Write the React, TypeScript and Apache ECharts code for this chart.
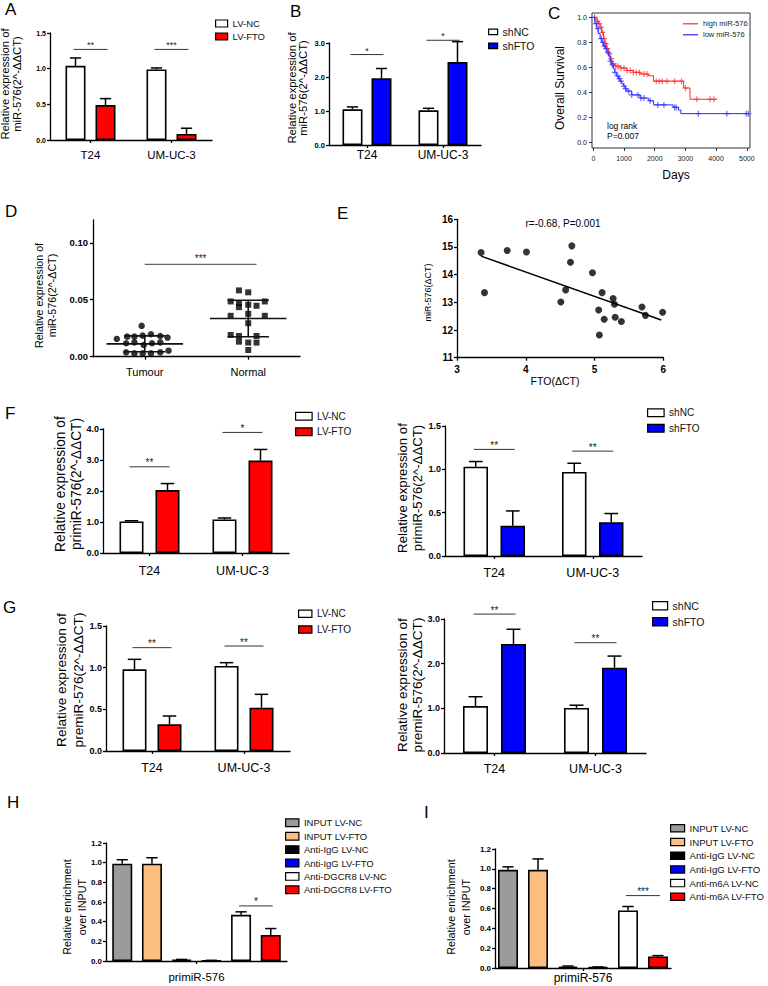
import React, { useEffect, useRef } from 'react';
import * as echarts from 'echarts';

const FONT = '"Liberation Sans", Arial, Helvetica, sans-serif';
const RED = '#ff0000';
const BLUE = '#0000ff';

// ===== Panel A : miR-576, LV-NC vs LV-FTO =====
const A_CATS = ['T24', 'UM-UC-3'];
const A_LVNC = [1.04, 0.99];
const A_LVNC_ERR = [0.11, 0.02];
const A_LVFTO = [0.49, 0.085];
const A_LVFTO_ERR = [0.09, 0.08];
const A_YTICKS = [0, 0.5, 1.0, 1.5];
const A_SIG_Y = [1.27, 1.27];
const A_SIG_TEXT = ['**', '***'];

// ===== Panel B : miR-576, shNC vs shFTO =====
const B_CATS = ['T24', 'UM-UC-3'];
const B_SHNC = [1.05, 1.02];
const B_SHNC_ERR = [0.07, 0.06];
const B_SHFTO = [1.96, 2.44];
const B_SHFTO_ERR = [0.29, 0.6];
const B_YTICKS = [0, 1.0, 2.0, 3.0];
const B_SIG_Y = [2.66, 3.08];
const B_SIG_TEXT = ['*', '*'];

// ===== Panel C : Kaplan-Meier =====
const C_HIGH_DAYS = [0, 60, 120, 170, 220, 270, 330, 380, 430, 490, 540, 600, 700, 870, 1090, 1300, 1520, 1790, 1960, 2940, 3150, 4030];
const C_HIGH_SURV = [1.0, 0.99, 0.97, 0.95, 0.92, 0.88, 0.83, 0.79, 0.75, 0.71, 0.67, 0.63, 0.61, 0.595, 0.575, 0.56, 0.547, 0.533, 0.49, 0.435, 0.345, 0.345];
const C_HIGH_CENSORED = [130, 190, 250, 300, 350, 400, 450, 520, 580, 650, 730, 800, 900, 1000, 1100, 1200, 1300, 1400, 1500, 1650, 1750, 2050, 2150, 2250, 2400, 2650, 2870, 3000, 3370, 3800, 3930];
const C_LOW_DAYS = [0, 50, 110, 160, 220, 280, 330, 400, 440, 500, 550, 600, 650, 700, 760, 820, 870, 930, 980, 1040, 1090, 1250, 1520, 1790, 1960, 2600, 2770, 2850, 5070];
const C_LOW_SURV = [1.0, 0.95, 0.91, 0.87, 0.83, 0.8, 0.77, 0.75, 0.72, 0.69, 0.65, 0.62, 0.59, 0.56, 0.53, 0.51, 0.49, 0.47, 0.45, 0.43, 0.41, 0.38, 0.355, 0.333, 0.3, 0.28, 0.259, 0.23, 0.23];
const C_LOW_CENSORED = [40, 90, 150, 260, 310, 360, 420, 480, 560, 620, 700, 800, 850, 900, 1000, 1050, 1150, 1250, 1450, 1550, 1650, 1850, 2100, 2300, 2650, 2700, 3420, 4350, 4980, 5050];
const C_XTICKS = [0, 1000, 2000, 3000, 4000, 5000];
const C_YTICKS = [0, 0.2, 0.4, 0.6, 0.8, 1.0];
const C_XMIN = -45;
const C_XMAX = 5105;
const C_YMIN = -0.045;
const C_YMAX = 1.035;

// ===== Panel D : Tumour vs Normal =====
const D_CATS = ['Tumour', 'Normal'];
// [group position incl. horizontal spread, value]
const D_TUMOUR = [[0.97, 0.0271], [0.73, 0.0156], [0.83, 0.0176], [0.9, 0.0176], [0.98, 0.0185], [1.06, 0.0197], [1.15, 0.0182], [1.22, 0.0168], [0.82, 0.0118], [0.9, 0.0126], [0.99, 0.0103], [1.07, 0.0118], [1.15, 0.0126], [0.82, 0.0038], [0.9, 0.0029], [0.98, 0.0029], [1.06, 0.0029], [1.15, 0.0038], [1.23, 0.0053]];
const D_NORMAL = [[1.91, 0.0582], [2.0, 0.0565], [1.83, 0.0485], [1.91, 0.0471], [2.0, 0.0456], [2.08, 0.0447], [2.16, 0.0485], [1.91, 0.0435], [1.83, 0.0359], [2.0, 0.0376], [2.16, 0.0359], [2.0, 0.0294], [1.83, 0.0191], [1.91, 0.0182], [2.08, 0.0182], [1.91, 0.0132], [2.0, 0.0124], [2.08, 0.0124], [2.0, 0.0059]];
const D_MEAN = [0.0113, 0.0335];
const D_SD = [0.007, 0.016];
const D_YTICKS = [0, 0.05, 0.1];
const D_SIG = [1.0, 2.08, 0.081];

// ===== Panel E : correlation =====
const E_POINTS = [[3.35, 14.8], [3.4, 13.35], [3.73, 14.87], [4.01, 14.82], [4.51, 13.01], [4.58, 13.45], [4.65, 14.45], [4.67, 15.04], [4.97, 14.07], [5.06, 12.72], [5.11, 13.35], [5.14, 12.39], [5.07, 11.82], [5.27, 13.14], [5.29, 12.93], [5.3, 12.46], [5.39, 12.31], [5.69, 12.83], [5.74, 12.53], [5.99, 12.64]];
const E_FIT = [[3.35, 14.67], [5.97, 12.36]];
const E_XTICKS = [3, 4, 5, 6];
const E_YTICKS = [11, 12, 13, 14, 15, 16];

// ===== Panel F left : primiR-576, LV =====
const F1_CATS = ['T24', 'UM-UC-3'];
const F1_LVNC = [1.02, 1.08];
const F1_LVNC_ERR = [0.02, 0.05];
const F1_LVFTO = [2.03, 2.98];
const F1_LVFTO_ERR = [0.21, 0.36];
const F1_YTICKS = [0, 1.0, 2.0, 3.0, 4.0];
const F1_SIG_Y = [2.78, 3.89];
const F1_SIG_TEXT = ['**', '*'];

// ===== Panel F right : primiR-576, sh =====
const F2_CATS = ['T24', 'UM-UC-3'];
const F2_SHNC = [1.03, 0.97];
const F2_SHNC_ERR = [0.06, 0.1];
const F2_SHFTO = [0.35, 0.39];
const F2_SHFTO_ERR = [0.17, 0.1];
const F2_YTICKS = [0, 0.5, 1.0, 1.5];
const F2_SIG_Y = [1.23, 1.21];
const F2_SIG_TEXT = ['**', '**'];

// ===== Panel G left : premiR-576, LV =====
const G1_CATS = ['T24', 'UM-UC-3'];
const G1_LVNC = [0.98, 1.02];
const G1_LVNC_ERR = [0.12, 0.04];
const G1_LVFTO = [0.32, 0.52];
const G1_LVFTO_ERR = [0.1, 0.16];
const G1_YTICKS = [0, 0.5, 1.0, 1.5];
const G1_SIG_Y = [1.24, 1.26];
const G1_SIG_TEXT = ['**', '**'];

// ===== Panel G right : premiR-576, sh =====
const G2_CATS = ['T24', 'UM-UC-3'];
const G2_SHNC = [1.05, 1.01];
const G2_SHNC_ERR = [0.21, 0.06];
const G2_SHFTO = [2.44, 1.91];
const G2_SHFTO_ERR = [0.33, 0.26];
const G2_YTICKS = [0, 1.0, 2.0, 3.0];
const G2_SIG_Y = [3.11, 2.47];
const G2_SIG_TEXT = ['**', '**'];

// ===== Panel H : DGCR8 RIP =====
const H_CATS = ['primiR-576'];
const H_GROUPS = ['INPUT LV-NC', 'INPUT LV-FTO', 'Anti-IgG LV-NC', 'Anti-IgG LV-FTO', 'Anti-DGCR8 LV-NC', 'Anti-DGCR8 LV-FTO'];
const H_VALUES = [0.99, 0.99, 0.012, 0.005, 0.47, 0.265];
const H_ERRS = [0.04, 0.06, 0.004, 0.002, 0.03, 0.065];
const H_YTICKS = [0, 0.2, 0.4, 0.6, 0.8, 1.0, 1.2];
const H_SIG_Y = 0.56;

// ===== Panel I : m6A RIP =====
const I_CATS = ['primiR-576'];
const I_GROUPS = ['INPUT LV-NC', 'INPUT LV-FTO', 'Anti-IgG LV-NC', 'Anti-IgG LV-FTO', 'Anti-m6A LV-NC', 'Anti-m6A LV-FTO'];
const I_VALUES = [0.99, 0.99, 0.015, 0.008, 0.58, 0.117];
const I_ERRS = [0.03, 0.11, 0.005, 0.003, 0.04, 0.008];
const I_YTICKS = [0, 0.2, 0.4, 0.6, 0.8, 1.0, 1.2];
const I_SIG_Y = 0.73;

const RIP_COLORS = ['#9b9b9b', '#fdbf80', '#000000', BLUE, '#ffffff', RED];
const PLUS = 'path://M4,0H6V4H10V6H6V10H4V6H0V4H4Z';

const survAt = (days: number[], surv: number[], t: number) => {
  let s = surv[0];
  for (let i = 0; i < days.length; i++) if (days[i] <= t) s = surv[i];
  return s;
};

const textEl = (text: string, x: number, y: number, size: number, o: any = {}) => ({
  type: 'text', x, y, rotation: o.rot ? Math.PI / 2 : 0, silent: true, z: 100,
  style: {
    text, fontSize: size, fontFamily: FONT, fontWeight: o.bold ? 'bold' : 'normal',
    fill: o.color || '#000', textAlign: o.align || 'center', textVerticalAlign: 'middle',
    lineHeight: o.lh,
  },
});

function buildOption() {
  const grid: any[] = [];
  const xAxis: any[] = [];
  const yAxis: any[] = [];
  const series: any[] = [];
  const legend: any[] = [];
  const graphics: any[] = [];
  const lineSty = { color: '#000', width: 1.3 };

  const addText = (text: string, x: number, y: number, size: number, o: any = {}) => {
    graphics.push(textEl(text, x, y, size, o));
  };

  const addLegend = (names: string[], left: number, firstCenter: number, pitch: number, iw: number, ih: number, fs: number) => {
    legend.push({
      orient: 'vertical', left, top: firstCenter - pitch / 2, padding: 0, itemGap: 0,
      itemWidth: iw, itemHeight: ih, icon: 'rect', data: names, selectedMode: false,
      textStyle: { fontSize: fs, lineHeight: pitch, color: '#111', fontFamily: FONT },
      itemStyle: { borderColor: '#000', borderWidth: 1.2 },
    });
  };

  const addBarPanel = (p: any) => {
    const gi = grid.length;
    const [left, top, width, height] = p.box;
    grid.push({ left, top, width, height });
    xAxis.push({
      type: 'category', gridIndex: gi, data: p.cats,
      axisLine: { show: true, lineStyle: lineSty },
      axisTick: { show: true, alignWithLabel: true, length: 3, lineStyle: lineSty },
      axisLabel: { color: '#000', fontSize: p.catFont, margin: p.catMargin, fontFamily: FONT },
      splitLine: { show: false },
    });
    yAxis.push({
      type: 'value', gridIndex: gi, min: 0, max: p.yMax,
      axisLine: { show: true, lineStyle: lineSty },
      axisTick: { show: true, length: 3, lineStyle: lineSty, customValues: p.yTicks },
      axisLabel: {
        customValues: p.yTicks, formatter: (v: number) => v.toFixed(p.yDec), color: '#000',
        fontWeight: 'bold', fontSize: p.tickFont, margin: 4, fontFamily: FONT,
      },
      splitLine: { show: false },
    });
    const n = p.series.length;
    const step = p.barWidth + p.barGap;
    const off = (si: number) => (si - (n - 1) / 2) * step;
    p.series.forEach((s: any) => {
      series.push({
        type: 'bar', name: s.name, xAxisIndex: gi, yAxisIndex: gi, data: s.values,
        barWidth: p.barWidth, barGap: `${(p.barGap / p.barWidth) * 100}%`,
        itemStyle: { color: s.color, borderColor: '#000', borderWidth: 1.6 }, silent: true, z: 2,
      });
    });
    const errData: number[][] = [];
    p.series.forEach((s: any, si: number) => s.values.forEach((v: number, ci: number) => errData.push([ci, v, s.errs[ci], si])));
    series.push({
      type: 'custom', xAxisIndex: gi, yAxisIndex: gi, data: errData, encode: { x: 0, y: 1 },
      clip: false, silent: true, z: 3,
      renderItem: (_params: any, api: any) => {
        const ci = api.value(0), v = api.value(1), e = api.value(2), si = api.value(3);
        const b = api.coord([ci, v]);
        const t = api.coord([ci, v + e]);
        const x = b[0] + off(si);
        const hw = p.barWidth * 0.28;
        const style = { stroke: '#000', lineWidth: 1.5 };
        return {
          type: 'group', children: [
            { type: 'line', shape: { x1: x, y1: b[1], x2: x, y2: t[1] }, style },
            { type: 'line', shape: { x1: x - hw, y1: t[1], x2: x + hw, y2: t[1] }, style },
          ],
        };
      },
    });
    const sigData = p.sig.map((s: any) => [s.cat, s.y, s.a, s.b]);
    series.push({
      type: 'custom', xAxisIndex: gi, yAxisIndex: gi, data: sigData, encode: { x: 0, y: 1 },
      clip: false, silent: true, z: 3,
      renderItem: (params: any, api: any) => {
        const c = api.coord([api.value(0), api.value(1)]);
        const x0 = c[0] + off(api.value(2)) - 2;
        const x1 = c[0] + off(api.value(3)) + 2;
        return {
          type: 'group', children: [
            { type: 'line', shape: { x1: x0, y1: c[1], x2: x1, y2: c[1] }, style: { stroke: '#333', lineWidth: 1 } },
            {
              type: 'text', x: (x0 + x1) / 2, y: c[1] - 4,
              style: { text: p.sig[params.dataIndex].text, textAlign: 'center', textVerticalAlign: 'middle', fontSize: p.sigFont, fontFamily: FONT, fill: '#222' },
            },
          ],
        };
      },
    });
  };

  const pairSig = (ys: number[], texts: string[]) => ys.map((y, i) => ({ cat: i, a: 0, b: 1, y, text: texts[i] }));

  // ---- A ----
  addBarPanel({
    box: [50, 33, 162, 107], cats: A_CATS, yMax: 1.5, yTicks: A_YTICKS, yDec: 1,
    barWidth: 20, barGap: 10, tickFont: 7, catFont: 11.5, catMargin: 9, sigFont: 9,
    series: [
      { name: 'LV-NC', color: '#ffffff', values: A_LVNC, errs: A_LVNC_ERR },
      { name: 'LV-FTO', color: RED, values: A_LVFTO, errs: A_LVFTO_ERR },
    ],
    sig: pairSig(A_SIG_Y, A_SIG_TEXT),
  });
  addLegend(['LV-NC', 'LV-FTO'], 215, 23.5, 13, 12, 7, 9.5);

  // ---- B ----
  addBarPanel({
    box: [329, 43, 152, 102], cats: B_CATS, yMax: 3, yTicks: B_YTICKS, yDec: 1,
    barWidth: 20, barGap: 9, tickFont: 7.5, catFont: 12, catMargin: 4, sigFont: 9,
    series: [
      { name: 'shNC', color: '#ffffff', values: B_SHNC, errs: B_SHNC_ERR },
      { name: 'shFTO', color: BLUE, values: B_SHFTO, errs: B_SHFTO_ERR },
    ],
    sig: pairSig(B_SIG_Y, B_SIG_TEXT),
  });
  addLegend(['shNC', 'shFTO'], 488, 31.8, 14, 9, 5.5, 10.5);

  // ---- C ----
  {
    const gi = grid.length;
    grid.push({ left: 592, top: 13, width: 158, height: 135, show: true, borderColor: '#333', borderWidth: 1, backgroundColor: 'transparent' });
    xAxis.push({
      type: 'value', gridIndex: gi, min: C_XMIN, max: C_XMAX,
      axisLine: { show: false, onZero: false },
      axisTick: { show: true, length: 3, customValues: C_XTICKS, lineStyle: { color: '#333' } },
      axisLabel: { customValues: C_XTICKS, formatter: (v: number) => String(v), fontSize: 7, margin: 7, color: '#222', fontFamily: FONT },
      splitLine: { show: false },
    });
    yAxis.push({
      type: 'value', gridIndex: gi, min: C_YMIN, max: C_YMAX, position: 'left',
      axisLine: { show: false, onZero: false },
      axisTick: { show: true, length: 3, customValues: C_YTICKS, lineStyle: { color: '#333' } },
      axisLabel: {
        show: true, customValues: C_YTICKS, formatter: (v: number) => v.toFixed(1),
        fontSize: 7, margin: 5, color: '#111', fontFamily: FONT,
      },
      splitLine: { show: false },
    });
    series.push({
      type: 'line', name: 'high miR-576', xAxisIndex: gi, yAxisIndex: gi, step: 'end', symbol: 'none', silent: true,
      data: C_HIGH_DAYS.map((d, i) => [d, C_HIGH_SURV[i]]), lineStyle: { color: '#ff2a2a', width: 1 }, itemStyle: { color: '#ff2a2a' },
    });
    series.push({
      type: 'line', name: 'low miR-576', xAxisIndex: gi, yAxisIndex: gi, step: 'end', symbol: 'none', silent: true,
      data: C_LOW_DAYS.map((d, i) => [d, C_LOW_SURV[i]]), lineStyle: { color: '#2a2aff', width: 1 }, itemStyle: { color: '#2a2aff' },
    });
    series.push({
      type: 'scatter', name: 'high censored', xAxisIndex: gi, yAxisIndex: gi, symbol: PLUS, symbolSize: 6, silent: true,
      data: C_HIGH_CENSORED.map((d) => [d, survAt(C_HIGH_DAYS, C_HIGH_SURV, d)]), itemStyle: { color: '#ff4a4a' },
    });
    series.push({
      type: 'scatter', name: 'low censored', xAxisIndex: gi, yAxisIndex: gi, symbol: PLUS, symbolSize: 6, silent: true,
      data: C_LOW_CENSORED.map((d) => [d, survAt(C_LOW_DAYS, C_LOW_SURV, d)]), itemStyle: { color: '#4a4aff' },
    });
    legend.push({
      orient: 'vertical', left: 683, top: 23.8 - 5.5, padding: 0, itemGap: 0, itemWidth: 15, itemHeight: 1.2,
      icon: 'rect', data: ['high miR-576', 'low miR-576'], selectedMode: false,
      textStyle: { fontSize: 7.5, lineHeight: 11, color: '#222', fontFamily: FONT },
    });
  }

  // ---- D ----
  {
    const gi = grid.length;
    grid.push({ left: 93, top: 220, width: 207, height: 136.7 });
    xAxis.push({
      type: 'value', gridIndex: gi, min: 0.5, max: 2.5,
      axisLine: { show: true, lineStyle: lineSty },
      axisTick: { show: true, length: 3, customValues: [1, 2], lineStyle: lineSty },
      axisLabel: { customValues: [1, 2], formatter: (v: number) => D_CATS[Math.round(v) - 1], fontSize: 11, margin: 10, color: '#000', fontFamily: FONT },
      splitLine: { show: false },
    });
    yAxis.push({
      type: 'value', gridIndex: gi, min: 0, max: 0.12,
      axisLine: { show: true, lineStyle: lineSty },
      axisTick: { show: true, length: 3, customValues: D_YTICKS, lineStyle: lineSty },
      axisLabel: { customValues: D_YTICKS, formatter: (v: number) => v.toFixed(2), fontWeight: 'bold', fontSize: 9.5, margin: 5, color: '#000', fontFamily: FONT },
      splitLine: { show: false },
    });
    series.push({ type: 'scatter', name: 'Tumour', xAxisIndex: gi, yAxisIndex: gi, symbol: 'circle', symbolSize: 6.5, data: D_TUMOUR, itemStyle: { color: '#000' }, silent: true, z: 2 });
    series.push({ type: 'scatter', name: 'Normal', xAxisIndex: gi, yAxisIndex: gi, symbol: 'rect', symbolSize: 6, data: D_NORMAL, itemStyle: { color: '#000' }, silent: true, z: 2 });
    series.push({
      type: 'custom', xAxisIndex: gi, yAxisIndex: gi, data: D_MEAN.map((m, i) => [i + 1, m, D_SD[i]]), encode: { x: 0, y: 1 },
      clip: false, silent: true, z: 3,
      renderItem: (_p: any, api: any) => {
        const cx = api.value(0), m = api.value(1), sd = api.value(2);
        const ml = api.coord([cx - 0.37, m]), mr = api.coord([cx + 0.37, m]);
        const hi = api.coord([cx, m + sd]), lo = api.coord([cx, m - sd]);
        const cl = api.coord([cx - 0.2, m]), cr = api.coord([cx + 0.2, m]);
        const style = { stroke: '#111', lineWidth: 1.6 };
        return {
          type: 'group', children: [
            { type: 'line', shape: { x1: ml[0], y1: ml[1], x2: mr[0], y2: mr[1] }, style },
            { type: 'line', shape: { x1: hi[0], y1: hi[1], x2: lo[0], y2: lo[1] }, style },
            { type: 'line', shape: { x1: cl[0], y1: hi[1], x2: cr[0], y2: hi[1] }, style },
            { type: 'line', shape: { x1: cl[0], y1: lo[1], x2: cr[0], y2: lo[1] }, style },
          ],
        };
      },
    });
    series.push({
      type: 'custom', xAxisIndex: gi, yAxisIndex: gi, data: [[D_SIG[0], D_SIG[2], D_SIG[1]]], encode: { x: 0, y: 1 },
      clip: false, silent: true, z: 3,
      renderItem: (_p: any, api: any) => {
        const a = api.coord([api.value(0), api.value(1)]);
        const b = api.coord([api.value(2), api.value(1)]);
        return {
          type: 'group', children: [
            { type: 'line', shape: { x1: a[0], y1: a[1], x2: b[0], y2: b[1] }, style: { stroke: '#666', lineWidth: 1.2 } },
            { type: 'text', x: (a[0] + b[0]) / 2, y: a[1] - 6, style: { text: '***', textAlign: 'center', textVerticalAlign: 'middle', fontSize: 10, fontFamily: FONT, fill: '#222' } },
          ],
        };
      },
    });
  }

  // ---- E ----
  {
    const gi = grid.length;
    grid.push({ left: 457, top: 219.3, width: 206.3, height: 138.4 });
    xAxis.push({
      type: 'value', gridIndex: gi, min: 3, max: 6,
      axisLine: { show: true, lineStyle: lineSty },
      axisTick: { show: true, length: 3, customValues: E_XTICKS, lineStyle: lineSty },
      axisLabel: { customValues: E_XTICKS, fontWeight: 'bold', fontSize: 10, margin: 7, color: '#000', fontFamily: FONT },
      splitLine: { show: false },
    });
    yAxis.push({
      type: 'value', gridIndex: gi, min: 11, max: 16,
      axisLine: { show: true, lineStyle: lineSty },
      axisTick: { show: true, length: 3, customValues: E_YTICKS, lineStyle: lineSty },
      axisLabel: { customValues: E_YTICKS, fontWeight: 'bold', fontSize: 10, margin: 4, color: '#000', fontFamily: FONT },
      splitLine: { show: false },
    });
    series.push({ type: 'scatter', name: 'samples', xAxisIndex: gi, yAxisIndex: gi, symbol: 'circle', symbolSize: 7, data: E_POINTS, itemStyle: { color: '#000' }, silent: true });
    series.push({ type: 'line', name: 'fit', xAxisIndex: gi, yAxisIndex: gi, symbol: 'none', data: E_FIT, lineStyle: { color: '#000', width: 1.5 }, silent: true });
  }

  // ---- F left ----
  addBarPanel({
    box: [103, 429, 186, 124], cats: F1_CATS, yMax: 4, yTicks: F1_YTICKS, yDec: 1,
    barWidth: 24, barGap: 12, tickFont: 9, catFont: 12.5, catMargin: 11, sigFont: 10,
    series: [
      { name: 'LV-NC', color: '#ffffff', values: F1_LVNC, errs: F1_LVNC_ERR },
      { name: 'LV-FTO', color: RED, values: F1_LVFTO, errs: F1_LVFTO_ERR },
    ],
    sig: pairSig(F1_SIG_Y, F1_SIG_TEXT),
  });
  addLegend(['LV-NC', 'LV-FTO'], 295, 416.2, 15.5, 16.5, 7.7, 10);

  // ---- F right ----
  addBarPanel({
    box: [445, 426, 197, 130], cats: F2_CATS, yMax: 1.5, yTicks: F2_YTICKS, yDec: 1,
    barWidth: 24.5, barGap: 12.5, tickFont: 9, catFont: 12.5, catMargin: 10, sigFont: 10,
    series: [
      { name: 'shNC', color: '#ffffff', values: F2_SHNC, errs: F2_SHNC_ERR },
      { name: 'shFTO', color: BLUE, values: F2_SHFTO, errs: F2_SHFTO_ERR },
    ],
    sig: pairSig(F2_SIG_Y, F2_SIG_TEXT),
  });
  addLegend(['shNC', 'shFTO'], 647, 412.8, 15.5, 16.5, 7.7, 10);

  // ---- G left ----
  addBarPanel({
    box: [106, 626, 184, 125], cats: G1_CATS, yMax: 1.5, yTicks: G1_YTICKS, yDec: 1,
    barWidth: 24, barGap: 11, tickFont: 9, catFont: 12.5, catMargin: 10, sigFont: 10,
    series: [
      { name: 'LV-NC', color: '#ffffff', values: G1_LVNC, errs: G1_LVNC_ERR },
      { name: 'LV-FTO', color: RED, values: G1_LVFTO, errs: G1_LVFTO_ERR },
    ],
    sig: pairSig(G1_SIG_Y, G1_SIG_TEXT),
  });
  addLegend(['LV-NC', 'LV-FTO'], 298, 613.7, 15.8, 13.3, 7.3, 10);

  // ---- G right ----
  addBarPanel({
    box: [444, 619, 202, 134], cats: G2_CATS, yMax: 3, yTicks: G2_YTICKS, yDec: 1,
    barWidth: 25, barGap: 13, tickFont: 9, catFont: 12.5, catMargin: 9, sigFont: 10,
    series: [
      { name: 'shNC', color: '#ffffff', values: G2_SHNC, errs: G2_SHNC_ERR },
      { name: 'shFTO', color: BLUE, values: G2_SHFTO, errs: G2_SHFTO_ERR },
    ],
    sig: pairSig(G2_SIG_Y, G2_SIG_TEXT),
  });
  addLegend(['shNC', 'shFTO'], 652, 605.8, 16, 15, 8.3, 10.5);

  // ---- H ----
  addBarPanel({
    box: [106, 843, 181, 118], cats: H_CATS, yMax: 1.2, yTicks: H_YTICKS, yDec: 1,
    barWidth: 20, barGap: 9.7, tickFont: 8, catFont: 11.5, catMargin: 10, sigFont: 10,
    series: H_GROUPS.map((g, i) => ({ name: g, color: RIP_COLORS[i], values: [H_VALUES[i]], errs: [H_ERRS[i]] })),
    sig: [{ cat: 0, a: 4, b: 5, y: H_SIG_Y, text: '*' }],
  });
  addLegend(H_GROUPS, 285, 822.8, 13.4, 13.3, 7.7, 9.5);

  // ---- I ----
  addBarPanel({
    box: [495, 849, 176, 119], cats: I_CATS, yMax: 1.2, yTicks: I_YTICKS, yDec: 1,
    barWidth: 20, barGap: 10, tickFont: 8, catFont: 12, catMargin: 4, sigFont: 10,
    series: I_GROUPS.map((g, i) => ({ name: g, color: RIP_COLORS[i], values: [I_VALUES[i]], errs: [I_ERRS[i]] })),
    sig: [{ cat: 0, a: 4, b: 5, y: I_SIG_Y, text: '***' }],
  });
  addLegend(I_GROUPS, 670, 828.3, 13.7, 14, 7.3, 9.6);

  // ---- panel letters ----
  addText('A', 5, 9.5, 17, { align: 'left' });
  addText('B', 290, 11, 17, { align: 'left' });
  addText('C', 548, 13.5, 17, { align: 'left' });
  addText('D', 5, 211.5, 17, { align: 'left' });
  addText('E', 337, 213.5, 17, { align: 'left' });
  addText('F', 5, 413.5, 17, { align: 'left' });
  addText('G', 3, 607.5, 17, { align: 'left' });
  addText('H', 7, 802.5, 17, { align: 'left' });
  addText('I', 424, 812.5, 17, { align: 'left' });

  // ---- axis titles and annotations ----
  addText('Relative expression of\nmiR-576(2^-ΔΔCT)', 11, 84, 11.3, { rot: true, lh: 11.7 });
  addText('Relative expression of\nmiR-576(2^-ΔΔCT)', 297.5, 88, 11.3, { rot: true, lh: 11.7 });
  addText('Overall Survival', 560, 88, 12, { rot: true });
  addText('Days', 676, 175, 12);
  addText('log rank', 607, 126, 8.5, { align: 'left' });
  addText('P=0.007', 607, 136, 8.5, { align: 'left' });
  addText('Relative expression of\nmiR-576(2^-ΔCT)', 45.5, 295.5, 10.7, { rot: true, lh: 12.4 });
  addText('miR-576(ΔCT)', 428, 292.5, 9, { rot: true });
  addText('FTO(ΔCT)', 555, 381, 10.5);
  addText('r=-0.68, P=0.001', 563, 223, 10);
  addText('Relative expression of\nprimiR-576(2^-ΔΔCT)', 68.5, 484, 13.8, { rot: true, lh: 16.7 });
  addText('Relative expression of\nprimiR-576(2^-ΔΔCT)', 410, 488, 13.2, { rot: true, lh: 15 });
  addText('Relative expression of\npremiR-576(2^-ΔΔCT)', 70, 680, 13.6, { rot: true, lh: 17 });
  addText('Relative expression of\npremiR-576(2^-ΔΔCT)', 410, 685, 13.6, { rot: true, lh: 15 });
  addText('Relative enrichment\nover INPUT', 74.5, 907, 10.8, { rot: true, lh: 15 });
  addText('Relative enrichment\nover INPUT', 458, 907, 10.8, { rot: true, lh: 15 });

  return {
    animation: false,
    backgroundColor: '#ffffff',
    textStyle: { fontFamily: FONT },
    grid, xAxis, yAxis, series, legend,
    graphic: { elements: graphics },
  };
}

export default function App() {
  const ref = useRef<HTMLDivElement>(null);
  useEffect(() => {
    if (!ref.current) return;
    const chart = echarts.init(ref.current, undefined, { renderer: 'svg' });
    chart.setOption(buildOption() as any);
    return () => chart.dispose();
  }, []);
  return <div ref={ref} style={{ position: 'absolute', left: 0, top: 0, width: 768, height: 986 }} />;
}
